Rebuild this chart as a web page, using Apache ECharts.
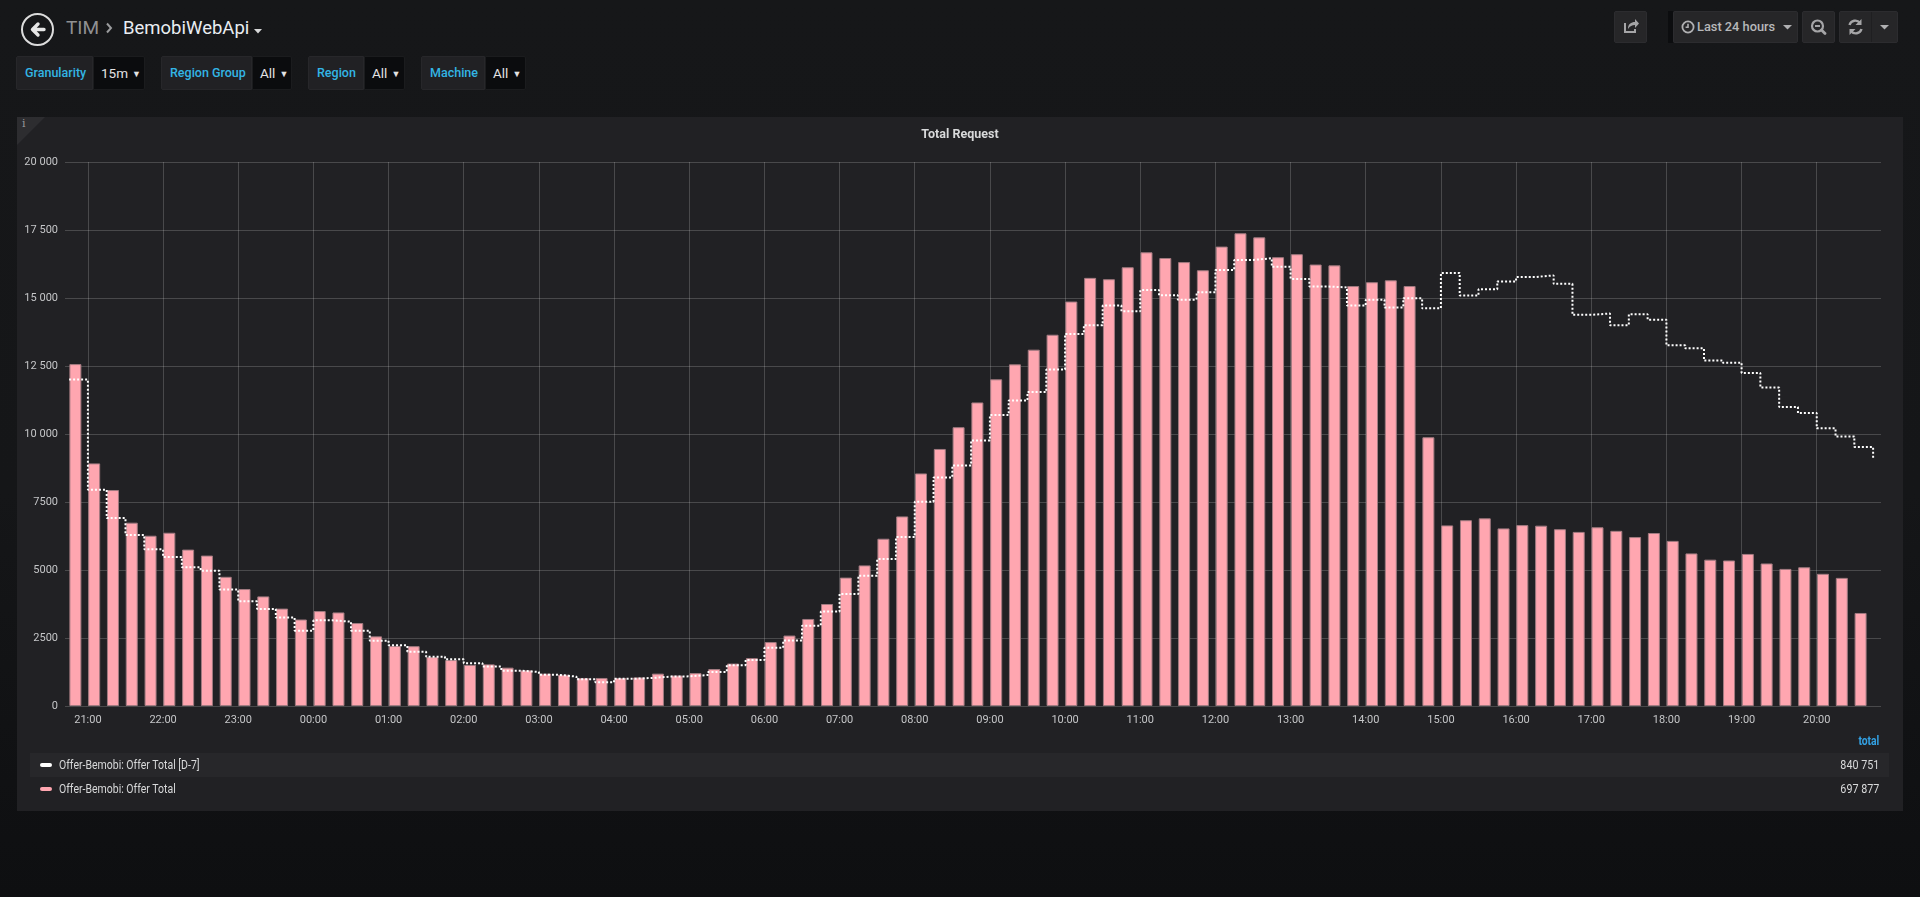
<!DOCTYPE html>
<html>
<head>
<meta charset="utf-8">
<title>TIM / BemobiWebApi - Total Request</title>
<script src="https://cdn.jsdelivr.net/npm/echarts@6.0.0/dist/echarts.min.js"></script>
<style>
  html, body { margin: 0; padding: 0; }
  body {
    width: 1920px; height: 897px; overflow: hidden; position: relative;
    background: linear-gradient(#161719 0%, #151618 55%, #0e0f11 100%);
    font-family: Roboto, "Noto Sans", sans-serif; color: #d8d9da;
  }
  .abs { position: absolute; white-space: nowrap; }
  /* navbar */
  #back { left: 21px; top: 13px; width: 29px; height: 29px; border: 2px solid #dcdcdc; border-radius: 50%; }
  .crumb { top: 14px; line-height: 28px; font-size: 19px; }
  .btn { background: #262628; border: 1px solid #2c2c2f; border-radius: 2px; top: 11px; height: 32px; box-sizing: border-box; }
  /* variables */
  .vl { top: 56px; height: 34px; background: #212124; border: 1px solid #27272a; box-sizing: border-box; border-radius: 2px 0 0 2px; }
  .vv { top: 56px; height: 34px; background: #0b0c0e; border: 1px solid #1b1c1e; box-sizing: border-box; border-radius: 0 2px 2px 0; }
  .vl span, .vv span { position: absolute; top: 0; line-height: 32px; }
  .vl span { color: #33b5e5; font-weight: 500; font-size: 12.5px; left: 8px; }
  .vv span { color: #e3e3e3; font-size: 13.5px; left: 7px; }
  .vv i { font-style: normal; font-size: 9px; margin-left: 4px; position: relative; top: -1px; }
  /* panel */
  #panel { left: 17px; top: 117px; width: 1886px; height: 694px; background: #212124; }
  #corner { left: 17px; top: 117px; width: 0; height: 0; border-top: 28px solid #2d2d30; border-right: 28px solid transparent; }
  #cornerI { left: 22px; top: 117px; font-size: 11px; color: #9a9a9c; font-family: "DejaVu Serif", serif; }
  #chart { left: 0; top: 0; width: 1920px; height: 897px; }
  /* legend */
  #legend { left: 0; top: 0; width: 1920px; height: 897px; pointer-events: none; }
  .lg-row { position: absolute; left: 30px; width: 1859px; height: 24px; }
  .lg-sw { position: absolute; left: 10px; top: 10px; width: 12px; height: 4px; border-radius: 2px; }
  .lg-name { position: absolute; left: 29px; top: 0; line-height: 24px; font-size: 12.5px; color: #d8d9da; transform: scaleX(0.84); transform-origin: left center; white-space: nowrap; }
  .lg-val { position: absolute; right: 10px; top: 0; line-height: 24px; font-size: 12.5px; color: #d8d9da; transform: scaleX(0.86); transform-origin: right center; white-space: nowrap; }
  #lgHead { right: 41px; top: 734px; font-size: 12px; font-weight: bold; color: #33a2e5; transform: scaleX(0.86); transform-origin: right center; }
</style>
</head>
<body>

<!-- navbar -->
<div class="abs" id="back">
  <svg width="29" height="29" viewBox="0 0 29 29" style="position:absolute;left:0;top:0">
    <path d="M21 14.5 H10 M15 9 L9.5 14.5 L15 20" stroke="#e6e6e6" stroke-width="3.4" fill="none" stroke-linecap="round" stroke-linejoin="round"/>
  </svg>
</div>
<span class="abs crumb" style="left:66px;color:#8f9092;">TIM</span>
<svg class="abs" width="8" height="12" viewBox="0 0 8 12" style="left:105px;top:22px">
  <path d="M2 1.5 L6 6 L2 10.5" stroke="#9a9b9d" stroke-width="2" fill="none"/>
</svg>
<span class="abs crumb" style="left:123px;color:#e9edf2;font-size:18.5px;">BemobiWebApi</span>
<svg class="abs" width="8" height="5" viewBox="0 0 8 5" style="left:254px;top:29px">
  <path d="M0 0 H8 L4 4.5 Z" fill="#d8d9da"/>
</svg>

<!-- right buttons -->
<div class="abs btn" style="left:1614px;width:33px;">
  <svg width="31" height="30" viewBox="0 0 31 30" style="position:absolute;left:0;top:0">
    <path d="M10 11 V20 H20 V17" stroke="#a5a5a7" stroke-width="2" fill="none"/>
    <path d="M13 17 C13 12 16 10 20 10 V7 L24 11.5 L20 16 V13 C17 13 15 14 13 17 Z" fill="#a5a5a7"/>
  </svg>
</div>
<div class="abs" style="left:1668px;top:11px;width:5px;height:32px;background:#0c0d0f;"></div>
<div class="abs btn" style="left:1673px;width:125px;">
  <svg width="14" height="14" viewBox="0 0 14 14" style="position:absolute;left:7px;top:8px">
    <circle cx="7" cy="7" r="5.6" stroke="#b0b0b2" stroke-width="1.8" fill="none"/>
    <path d="M7 3.8 V7.3 H4.6" stroke="#b0b0b2" stroke-width="1.6" fill="none"/>
  </svg>
  <span class="abs" style="left:23px;top:0;line-height:30px;font-size:12.8px;font-weight:500;color:#b7b8ba;">Last 24 hours</span>
  <svg width="9" height="5" viewBox="0 0 9 5" style="position:absolute;left:109px;top:13px">
    <path d="M0 0 H9 L4.5 4.5 Z" fill="#b0b0b2"/>
  </svg>
</div>
<div class="abs btn" style="left:1802px;width:33px;">
  <svg width="31" height="30" viewBox="0 0 31 30" style="position:absolute;left:0;top:0">
    <circle cx="14.5" cy="14" r="5.5" stroke="#a5a5a7" stroke-width="2.2" fill="none"/>
    <path d="M12 14 H17" stroke="#a5a5a7" stroke-width="2"/>
    <path d="M18.5 18 L22 21.5" stroke="#a5a5a7" stroke-width="2.8" stroke-linecap="round"/>
  </svg>
</div>
<div class="abs btn" style="left:1839px;width:59px;">
  <svg width="31" height="30" viewBox="0 0 31 30" style="position:absolute;left:0;top:0">
    <path d="M9.5 13 A6 6 0 0 1 20 11" stroke="#a5a5a7" stroke-width="2.4" fill="none"/>
    <path d="M21.5 7 V13 H15.5 Z" fill="#a5a5a7"/>
    <path d="M21.5 17 A6 6 0 0 1 11 19" stroke="#a5a5a7" stroke-width="2.4" fill="none"/>
    <path d="M9.5 23 V17 H15.5 Z" fill="#a5a5a7"/>
  </svg>
  <div class="abs" style="left:31px;top:0;width:1px;height:30px;background:#1f1f21;"></div>
  <svg width="9" height="5" viewBox="0 0 9 5" style="position:absolute;left:40px;top:13px">
    <path d="M0 0 H9 L4.5 4.5 Z" fill="#b0b0b2"/>
  </svg>
</div>

<!-- template variables -->
<div class="abs vl" style="left:16px;width:77px;"><span>Granularity</span></div>
<div class="abs vv" style="left:93px;width:52px;"><span>15m<i>&#9660;</i></span></div>
<div class="abs vl" style="left:161px;width:91px;"><span>Region Group</span></div>
<div class="abs vv" style="left:252px;width:40px;"><span>All<i>&#9660;</i></span></div>
<div class="abs vl" style="left:308px;width:56px;"><span>Region</span></div>
<div class="abs vv" style="left:364px;width:41px;"><span>All<i>&#9660;</i></span></div>
<div class="abs vl" style="left:421px;width:64px;"><span>Machine</span></div>
<div class="abs vv" style="left:485px;width:41px;"><span>All<i>&#9660;</i></span></div>

<!-- panel -->
<div class="abs" id="panel"></div>
<div class="abs" id="corner"></div>
<div class="abs" id="cornerI">i</div>
<div class="abs" id="chart"></div>

<div class="abs" id="legend">
  <div class="abs" id="lgHead">total</div>
  <div class="lg-row" style="top:753px;background:#27272a;">
    <div class="lg-sw" style="background:#ffffff;"></div>
    <div class="lg-name" id="lgName0"></div>
    <div class="lg-val" id="lgVal0"></div>
  </div>
  <div class="lg-row" style="top:777px;">
    <div class="lg-sw" style="background:#FFA6B0;"></div>
    <div class="lg-name" id="lgName1"></div>
    <div class="lg-val" id="lgVal1"></div>
  </div>
</div>

<script>
  // 15 minute buckets, 20:45 -> 20:45 next day
  var times = [
    '20:45','21:00','21:15','21:30','21:45','22:00','22:15','22:30','22:45',
    '23:00','23:15','23:30','23:45','00:00','00:15','00:30','00:45',
    '01:00','01:15','01:30','01:45','02:00','02:15','02:30','02:45',
    '03:00','03:15','03:30','03:45','04:00','04:15','04:30','04:45',
    '05:00','05:15','05:30','05:45','06:00','06:15','06:30','06:45',
    '07:00','07:15','07:30','07:45','08:00','08:15','08:30','08:45',
    '09:00','09:15','09:30','09:45','10:00','10:15','10:30','10:45',
    '11:00','11:15','11:30','11:45','12:00','12:15','12:30','12:45',
    '13:00','13:15','13:30','13:45','14:00','14:15','14:30','14:45',
    '15:00','15:15','15:30','15:45','16:00','16:15','16:30','16:45',
    '17:00','17:15','17:30','17:45','18:00','18:15','18:30','18:45',
    '19:00','19:15','19:30','19:45','20:00','20:15','20:30','20:45'
  ];

  // Offer-Bemobi: Offer Total (barras, 20:45 .. 20:30)
  var offerTotal = [
    12570, 8920, 7940, 6740, 6260, 6370, 5750, 5530, 4750,
    4300, 4030, 3580, 3180, 3490, 3440, 3050, 2560,
    2210, 2200, 1800, 1690, 1510, 1530, 1410, 1310,
    1190, 1150, 1030, 1030, 1030, 1050, 1190, 1120,
    1210, 1360, 1560, 1760, 2350, 2590, 3200, 3750,
    4720, 5170, 6150, 6970, 8550, 9450, 10250, 11160,
    12010, 12560, 13100, 13650, 14870, 15740, 15690, 16130,
    16680, 16470, 16320, 16020, 16890, 17380, 17230, 16500,
    16610, 16230, 16200, 15440, 15580, 15650, 15440, 9880,
    6640, 6830, 6900, 6530, 6650, 6630, 6500, 6400,
    6570, 6440, 6210, 6360, 6070, 5610, 5380, 5350,
    5590, 5240, 5040, 5100, 4860, 4710, 3420
  ];

  // Offer-Bemobi: Offer Total [D-7] (linha pontilhada em degraus, 20:45 .. 20:45)
  var offerTotalD7 = [
    12000, 7950, 6910, 6290, 5760, 5480, 5100, 4970, 4280,
    3850, 3570, 3250, 2770, 3150, 3100, 2770, 2400,
    2230, 1990, 1810, 1720, 1570, 1450, 1300, 1250,
    1150, 1080, 980, 870, 1000, 1030, 1080, 1090,
    1140, 1250, 1500, 1690, 2140, 2410, 2950, 3470,
    4120, 4790, 5400, 6210, 7510, 8400, 8840, 9760,
    10700, 11230, 11540, 12370, 13680, 14000, 14720, 14510,
    15290, 15100, 14940, 15210, 16030, 16400, 16460, 16150,
    15700, 15420, 15390, 14720, 14940, 14650, 14990, 14620,
    15920, 15090, 15320, 15610, 15770, 15830, 15520, 14380,
    14430, 14000, 14400, 14200, 13260, 13150, 12700, 12620,
    12240, 11710, 10990, 10770, 10210, 9910, 9520, 9060
  ];

  var seriesNames = ['Offer-Bemobi: Offer Total [D-7]', 'Offer-Bemobi: Offer Total'];
  var legendTotals = ['840 751', '697 877'];
  var yMax = 20000;
  var yStep = 2500;

  // periodo "Last 24 hours"
  var rangeFrom = new Date(2019, 0, 7, 20, 46, 30).getTime();
  var rangeTo = new Date(2019, 0, 8, 20, 46, 30).getTime();

  function pad(n) { return n < 10 ? '0' + n : '' + n; }

  // converte 'HH:MM' em timestamp, virando o dia quando a hora volta
  function toStamps(list) {
    var out = [], day = 0, prev = -1;
    for (var i = 0; i < list.length; i++) {
      var p = list[i].split(':');
      var mins = (+p[0]) * 60 + (+p[1]);
      if (mins < prev) day++;
      prev = mins;
      out.push(new Date(2019, 0, 7 + day, +p[0], +p[1]).getTime());
    }
    return out;
  }

  // formato de milhar do Grafana: 7500, 10 000
  function fmtNum(v) {
    if (v < 10000) return '' + v;
    var s = '' + v;
    return s.slice(0, s.length - 3) + ' ' + s.slice(s.length - 3);
  }

  var stamps = toStamps(times);
  var barShift = 5 * 60 * 1000; // barra do grafana comeca no timestamp (largura 10 min)

  var barData = [];
  for (var i = 0; i < offerTotal.length; i++) {
    barData.push([stamps[i] + barShift, offerTotal[i]]);
  }
  var lineData = [];
  for (var j = 0; j < offerTotalD7.length; j++) {
    lineData.push([stamps[j], offerTotalD7[j]]);
  }

  for (var k = 0; k < seriesNames.length; k++) {
    document.getElementById('lgName' + k).textContent = seriesNames[k];
    document.getElementById('lgVal' + k).textContent = legendTotals[k];
  }

  var myChart = echarts.init(document.getElementById('chart'), null, { renderer: 'canvas' });

  myChart.setOption({
    backgroundColor: 'transparent',
    animation: false,
    textStyle: { fontFamily: 'Roboto, "Noto Sans", sans-serif' },
    title: {
      text: 'Total Request',
      left: 'center',
      top: 123,
      textStyle: { color: '#d8d9da', fontSize: 12.5, fontWeight: 'bold' }
    },
    grid: { left: 65, right: 39, top: 162, bottom: 191 },
    xAxis: {
      type: 'time',
      min: rangeFrom,
      max: rangeTo,
      minInterval: 3600 * 1000,
      maxInterval: 3600 * 1000,
      axisLine: { show: false },
      axisTick: { show: false },
      axisLabel: {
        color: '#c5c6c8',
        fontSize: 11,
        margin: 9,
        formatter: function (val) {
          var d = new Date(val);
          if (d.getMinutes() !== 0 || d.getSeconds() !== 0) return '';
          return pad(d.getHours()) + ':00';
        }
      },
      splitLine: {
        show: true,
        showMinLine: false,
        showMaxLine: false,
        lineStyle: { color: 'rgba(255,255,255,0.18)', width: 1 }
      }
    },
    yAxis: {
      type: 'value',
      min: 0,
      max: yMax,
      interval: yStep,
      axisLine: { show: false },
      axisTick: { show: false },
      axisLabel: { color: '#c5c6c8', fontSize: 11, margin: 7, formatter: fmtNum },
      splitLine: { show: true, lineStyle: { color: 'rgba(255,255,255,0.18)', width: 1 } }
    },
    series: [
      {
        name: seriesNames[1],
        type: 'bar',
        data: barData,
        barWidth: 12,
        silent: true,
        itemStyle: { color: '#FFA6B0', borderColor: '#a27b81', borderWidth: 1 },
        z: 2
      },
      {
        name: seriesNames[0],
        type: 'line',
        step: 'end',
        data: lineData,
        symbol: 'none',
        showSymbol: false,
        silent: true,
        lineStyle: { color: '#ffffff', width: 2, type: [2, 2] },
        z: 3
      }
    ]
  });
</script>
</body>
</html>
